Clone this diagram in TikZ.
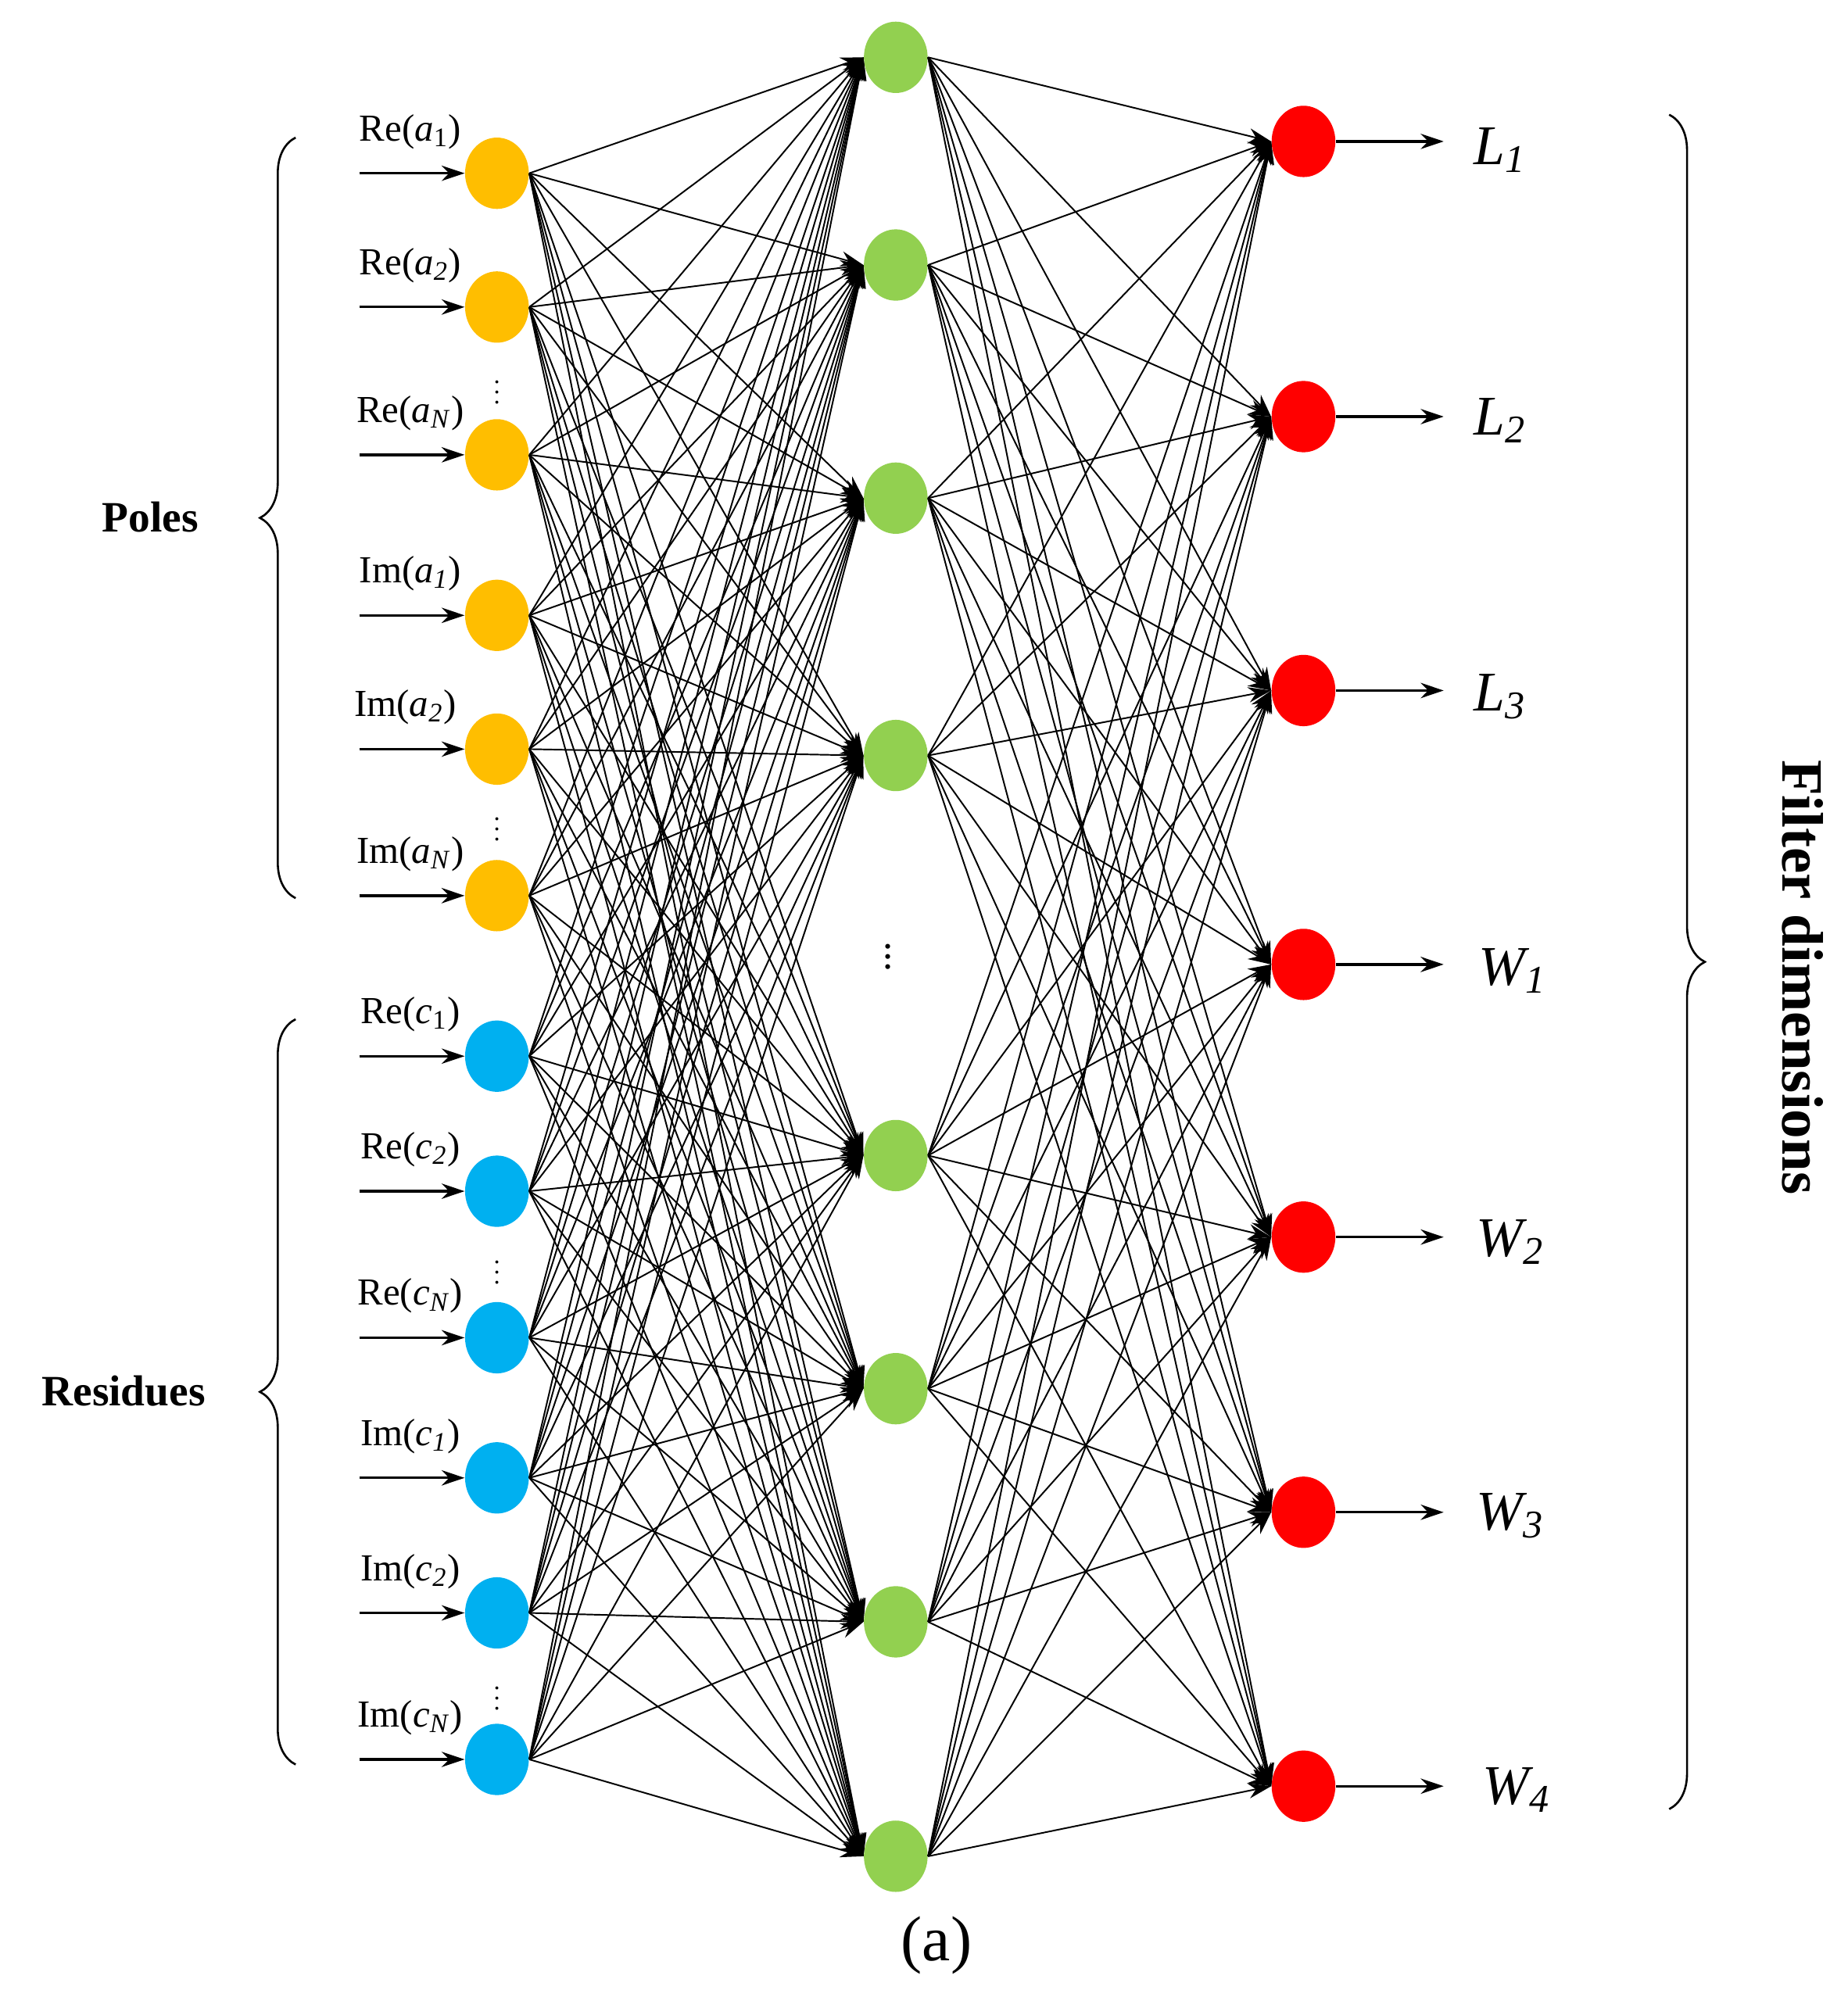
\documentclass[tikz,border=0pt]{standalone}
\usepackage{fontspec}
\setmainfont{Liberation Serif}
\usetikzlibrary{arrows.meta,decorations.pathreplacing,shapes.geometric}
\definecolor{inC}{RGB}{255,190,0}
\definecolor{resC}{RGB}{0,176,240}
\definecolor{hidC}{RGB}{146,208,80}
\definecolor{outC}{RGB}{255,0,0}
\newcommand{\vv}[2]{\textit{#1}\textsubscript{#2}}
\begin{document}
\begin{tikzpicture}[x=0.5pt,y=-0.5pt,
  neu/.style={ellipse,minimum width=25pt,minimum height=28pt,inner sep=0pt},
  edge/.style={-{Stealth[length=9pt,width=6pt]},line width=0.6pt},
  io/.style={-{Stealth[length=9pt,width=6pt]},line width=1pt},
  lab/.style={font=\fontsize{15}{17}\selectfont,anchor=south},
  olab/.style={font=\fontsize{22}{24}\selectfont\itshape},
  dts/.style={font=\fontsize{10}{10}\selectfont,inner sep=0pt},
  brace/.style={decorate,decoration={brace,amplitude=14pt},line width=0.8pt}]
\useasboundingbox (0,0) rectangle (1450,1562);
\foreach \i/\y/\c in {1/136/inC,2/241/inC,3/357/inC,4/483/inC,5/588/inC,6/703/inC,7/829/resC,8/935/resC,9/1050/resC,10/1160/resC,11/1266/resC,12/1381/resC}{
  \node[neu,fill=\c] (i\i) at (390,\y) {};
  \coordinate (s\i) at (282,\y);
}
\foreach \j/\y in {1/45,2/208,3/391,4/593,5/907,6/1090,7/1273,8/1457}{
  \node[neu,fill=hidC] (h\j) at (703,\y) {};
}
\foreach \k/\y in {1/111,2/327,3/542,4/757,5/971,6/1187,7/1402}{
  \node[neu,fill=outC] (o\k) at (1023,\y) {};
  \coordinate (t\k) at (1133,\y);
  \draw[io] (o\k) -- (t\k);
}
\foreach \i in {1,...,12}{
  \draw[io] (s\i) -- (i\i);
  \foreach \j in {1,...,8}{\draw[edge] (i\i.east) -- (h\j.west);}
}
\foreach \j in {1,...,8}{\foreach \k in {1,...,7}{\draw[edge] (h\j.east) -- (o\k.west);}}
\node[lab] (l1) at (322,124) {Re(\vv{a}{1})};
\node[lab] (l2) at (322,229) {Re(\vv{a}{\textit{2}})};
\node[lab] (l3) at (322,345) {Re(\vv{a}{\textit{N}})};
\node[lab] (l4) at (322,471) {Im(\vv{a}{\textit{1}})};
\node[lab] (l5) at (318,576) {Im(\vv{a}{\textit{2}})};
\node[lab] (l6) at (322,691) {Im(\vv{a}{\textit{N}})};
\node[lab] (l7) at (322,817) {Re(\vv{c}{1})};
\node[lab] (l8) at (322,923) {Re(\vv{c}{\textit{2}})};
\node[lab] (l9) at (322,1038) {Re(\vv{c}{\textit{N}})};
\node[lab] (l10) at (322,1148) {Im(\vv{c}{\textit{1}})};
\node[lab] (l11) at (322,1254) {Im(\vv{c}{\textit{2}})};
\node[lab] (l12) at (322,1369) {Im(\vv{c}{\textit{N}})};
\foreach \y [count=\n] in {302,645,993,1327}{\node[dts] (d\n) at (390,\y) {$\vdots$};}
\node[font=\fontsize{16}{16}\selectfont,inner sep=0pt] (dh) at (697,745) {$\vdots$};
\node[olab] (ol1) at (1177,118) {\vv{L}{\textit{1}}};
\node[olab] (ol2) at (1177,330) {\vv{L}{\textit{2}}};
\node[olab] (ol3) at (1177,547) {\vv{L}{\textit{3}}};
\node[olab] (ol4) at (1187,762) {\vv{W}{\textit{1}}};
\node[olab] (ol5) at (1185,975) {\vv{W}{\textit{2}}};
\node[olab] (ol6) at (1185,1190) {\vv{W}{\textit{3}}};
\node[olab] (ol7) at (1190,1405) {\vv{W}{\textit{4}}};
\draw[brace] (232,705) -- (232,108);
\draw[brace] (232,1385) -- (232,800);
\draw[brace] (1310,90) -- (1310,1420);
\node[font=\fontsize{17}{19}\selectfont\bfseries] (poles) at (118,406) {Poles};
\node[font=\fontsize{17}{19}\selectfont\bfseries] (res) at (97,1092) {Residues};
\node[font=\fontsize{23}{25}\selectfont\bfseries,rotate=-90] (fd) at (1415,767) {Filter dimensions};
\node[font=\fontsize{25}{27}\selectfont] (cap) at (735,1527) {(a)};
\end{tikzpicture}
\end{document}
